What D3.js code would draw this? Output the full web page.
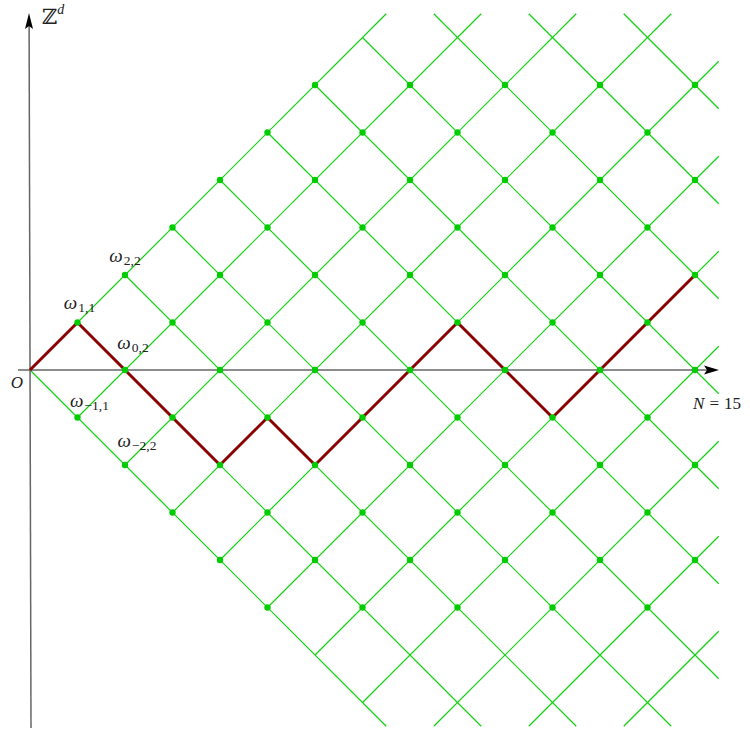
<!DOCTYPE html>
<html>
<head>
<meta charset="utf-8">
<script src="https://cdn.jsdelivr.net/npm/d3@7"></script>
<style>
  html, body { margin: 0; padding: 0; background: #fff; }
  svg { display: block; }
  text { font-family: "Liberation Serif", "DejaVu Serif", serif; fill: #222; }
</style>
</head>
<body>
<svg id="chart" width="750" height="733"></svg>
<script>
// ---- data ----
const steps = d3.range(0, 15);                      // time index n = 0..14
const pathHeights = [0, 1, 0, -1, -2, -1, -2, -1, 0, 1, 0, -1, 0, 1, 2];
const lineOffsets = d3.range(0, 22, 2);             // lattice lines x ± y = c
const dotLevels = d3.range(-5, 7);                  // levels carrying nodes
const nodeLabels = [
  { n: 1, k: 1, sub: "1,1" },
  { n: 2, k: 2, sub: "2,2" },
  { n: 2, k: 0, sub: "0,2" },
  { n: 1, k: -1, sub: "\u22121,1" },
  { n: 2, k: -2, sub: "\u22122,2" }
];
const axisLabelY = "\u2124";
const originLabel = "O";

// ---- scales ----
const svg = d3.select("#chart");
const x = d3.scaleLinear().domain([0, 14]).range([30, 695]);
const y = d3.scaleLinear().domain([-7.5, 7.5]).range([726.25, 13.75]);
const xMax = 14.5, yMax = 7.5;

// ---- lattice lines (clipped to cone |k| <= n, |k| <= 7.5, n <= 14.5) ----
const segs = [];
lineOffsets.forEach(c => {
  const x0 = Math.max(c / 2, c - yMax), x1 = Math.min(xMax, c + yMax);
  if (x1 > x0) {
    segs.push([[x0, x0 - c], [x1, x1 - c]]);     // rising lines  k = n - c
    segs.push([[x0, c - x0], [x1, c - x1]]);     // falling lines k = c - n
  }
});
svg.append("g")
  .selectAll("line").data(segs).join("line")
  .attr("x1", d => x(d[0][0])).attr("y1", d => y(d[0][1]))
  .attr("x2", d => x(d[1][0])).attr("y2", d => y(d[1][1]))
  .attr("stroke", "#12d212").attr("stroke-width", 1.2);

// ---- axes ----
const axisG = svg.append("g");
axisG.append("line").attr("x1", 18).attr("y1", y(0)).attr("x2", 708).attr("y2", y(0))
  .attr("stroke", "#666").attr("stroke-width", 1.5);
axisG.append("path")
  .attr("d", `M719,${y(0)} L704,${y(0) - 4.5} L707,${y(0)} L704,${y(0) + 4.5} Z`)
  .attr("fill", "#000");
axisG.append("line").attr("x1", 31).attr("y1", 728).attr("x2", 29.1).attr("y2", 24)
  .attr("stroke", "#666").attr("stroke-width", 1.5);
axisG.append("path")
  .attr("d", "M29,13 L25,29 L29,26 L33,29 Z")
  .attr("fill", "#000");

// ---- highlighted path ----
svg.append("path")
  .datum(steps.map((n, i) => [n, pathHeights[i]]))
  .attr("d", d3.line().x(d => x(d[0])).y(d => y(d[1])))
  .attr("fill", "none").attr("stroke", "#8b0000").attr("stroke-width", 3)
  .attr("stroke-linejoin", "miter");

// ---- lattice nodes ----
const dots = [];
steps.forEach(n => dotLevels.forEach(k => {
  if (n > 0 && Math.abs(k) <= n && (n + k) % 2 === 0) dots.push([n, k]);
}));
svg.append("g").selectAll("circle").data(dots).join("circle")
  .attr("cx", d => x(d[0])).attr("cy", d => y(d[1])).attr("r", 3.2)
  .attr("fill", "#00cc00");

// ---- labels ----
const labelShift = { "1,1": [2, -14], "2,2": [0, -13], "0,2": [8, -21],
                     "\u22121,1": [12, -11], "\u22122,2": [12, -18] };
nodeLabels.forEach(l => {
  const [dx, dy] = labelShift[l.sub];
  const t = svg.append("text")
    .attr("x", x(l.n) + dx).attr("y", y(l.k) + dy)
    .attr("text-anchor", "middle");
  t.append("tspan").attr("font-style", "italic").attr("font-size", 19).text("\u03c9");
  t.append("tspan").attr("font-size", 13.5).attr("dy", 3).attr("dx", 1).text(l.sub);
});

svg.append("text").attr("x", 17).attr("y", 388).attr("text-anchor", "middle")
  .attr("font-style", "italic").attr("font-size", 17).text(originLabel);

const nl = svg.append("text").attr("x", 717).attr("y", 409).attr("text-anchor", "middle")
  .attr("font-size", 17);
nl.append("tspan").attr("font-style", "italic").text("N");
nl.append("tspan").attr("dx", 5).text("=");
nl.append("tspan").attr("dx", 5).text("15");

const zl = svg.append("text").attr("x", 42).attr("y", 24).attr("font-size", 21);
zl.append("tspan").attr("font-family", "DejaVu Serif").text(axisLabelY);
zl.append("tspan").attr("font-style", "italic").attr("font-size", 14).attr("dy", -10).text("d");
</script>
</body>
</html>
